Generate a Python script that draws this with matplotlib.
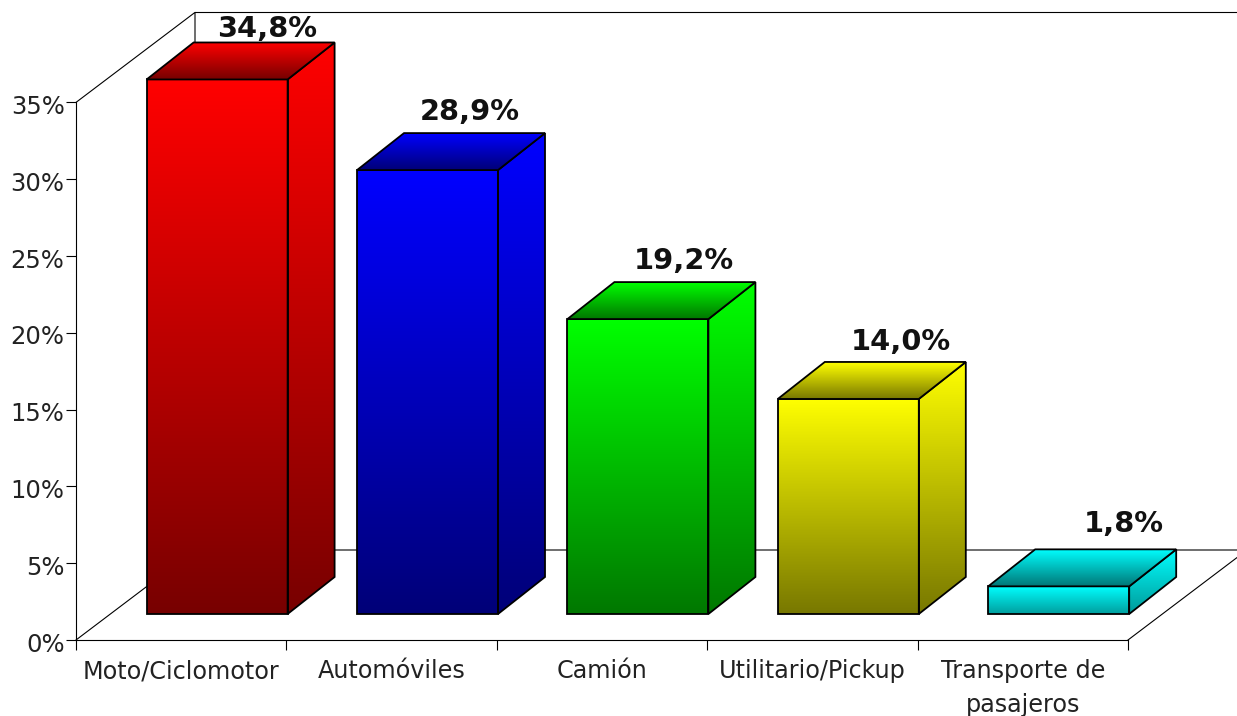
import numpy as np
import matplotlib
matplotlib.use('Agg')
import matplotlib.pyplot as plt
from matplotlib.patches import Polygon
from matplotlib.transforms import ScaledTranslation

categories = ['Moto/Ciclomotor', 'Automóviles', 'Camión', 'Utilitario/Pickup', 'Transporte de\npasajeros']
values = [34.8, 28.9, 19.2, 14.0, 1.8]
value_labels = ['34,8%', '28,9%', '19,2%', '14,0%', '1,8%']
colors = [(1, 0, 0), (0, 0, 1), (0, 1, 0), (1, 1, 0), (0, 1, 1)]
yticks = [0, 5, 10, 15, 20, 25, 30, 35]

# pixel scale of the picture, one category / one percent
W, H = 1237, 716
PX = 210.4
PY = 15.36
x0, y0 = 76, 640


def dx(px):
    return px / PX


def dy(px):
    return px / PY


fig = plt.figure(figsize=(W / 100, H / 100), dpi=100)
ax = fig.add_axes([0, 0, 1, 1])
xlim = (-x0 / PX, (W - x0) / PX)
ylim = (-(H - y0) / PY, y0 / PY)
ax.patch.set_visible(False)

# walls and floor
wx, wy = dx(119), dy(90)
top = yticks[-1]
n = len(categories)
wall = dict(color='black', lw=0.8, zorder=1)
ax.plot([0, wx, wx], [top, top + wy, wy], **wall)
ax.plot([wx, xlim[1]], [top + wy, top + wy], **wall)
ax.plot([0, wx, xlim[1]], [0, wy, wy], **wall)
ax.plot([n, xlim[1]], [0, dy(90) * (xlim[1] - n) / wx], **wall)

# axis lines, ticks and labels
for s in ['top', 'right']:
    ax.spines[s].set_visible(False)
ax.spines['left'].set_position(('data', 0))
ax.spines['bottom'].set_position(('data', 0))
ax.spines['left'].set_bounds(0, top)
ax.spines['bottom'].set_bounds(0, n)
ax.spines['left'].set_linewidth(0.8)
ax.spines['bottom'].set_linewidth(0.8)
ax.set_yticks(yticks)
ax.set_yticklabels(['%d%%' % t for t in yticks], fontsize=17.5, color='#222222')
ax.tick_params(axis='y', length=7.2, width=0.8, pad=1)
for lab in ax.get_yticklabels():
    lab.set_transform(lab.get_transform() + ScaledTranslation(0, -0.02, fig.dpi_scale_trans))
ax.set_xticks(range(n + 1))
ax.set_xticklabels([])
ax.tick_params(axis='x', which='major', length=7.2, width=0.8)
ax.set_xticks([i + 0.5 for i in range(n)], minor=True)
ax.set_xticklabels(categories, minor=True, fontsize=17.2, color='#222222', linespacing=1.48)
ax.tick_params(axis='x', which='minor', length=0, pad=14)


def shaded_face(pts, color, dark, z):
    # face with a vertical gradient, bright on top
    poly = Polygon(pts, closed=True, facecolor='none', edgecolor='black', lw=1.3,
                   joinstyle='miter', zorder=z + 1)
    ax.add_patch(poly)
    ramp = np.linspace(1, dark, 128)[:, None, None] * np.array(color)[None, None, :]
    xs = [p[0] for p in pts]
    ys = [p[1] for p in pts]
    im = ax.imshow(ramp, extent=(min(xs), max(xs), min(ys), max(ys)), origin='upper',
                   aspect='auto', interpolation='bilinear', zorder=z)
    im.set_clip_path(poly)


# bars
bar_w = dx(141)
off_x = dx(70.6)
base = dy(26)
depth_x, depth_y = dx(47), dy(37)
label_dx = [50, 42, 46, 53, 65]
label_dy = [5, 13, 13, 12, 17]
front_dark = [0.47, 0.47, 0.47, 0.47, 0.62]
side_dark = [0.47, 0.47, 0.47, 0.47, 0.6]

for i, (v, c) in enumerate(zip(values, colors)):
    l = i + off_x
    r = l + bar_w
    b = base
    t = base + v
    z = 3 + i * 3
    front = [(l, b), (r, b), (r, t), (l, t)]
    side = [(r, b), (r + depth_x, b + depth_y), (r + depth_x, t + depth_y), (r, t)]
    roof = [(l, t), (r, t), (r + depth_x, t + depth_y), (l + depth_x, t + depth_y)]
    shaded_face(front, c, front_dark[i], z)
    shaded_face(side, c, side_dark[i], z)
    shaded_face(roof, c, 0.47, z + 1)
    ax.text(l + bar_w / 2 + dx(label_dx[i]), t + depth_y + dy(label_dy[i]), value_labels[i],
            ha='center', va='baseline', fontsize=20.8, fontweight='bold', color='#111111', zorder=40)

ax.set_xlim(xlim)
ax.set_ylim(ylim)
fig.savefig('out.png', dpi=100, facecolor='white')
